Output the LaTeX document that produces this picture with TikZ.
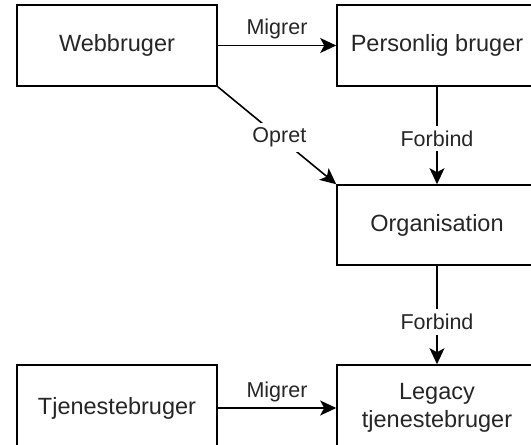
\documentclass[tikz,border=0pt]{standalone}
\usepackage{fontspec}
\setmainfont{Liberation Sans}
\usetikzlibrary{arrows.meta}
\tikzset{
  box/.style={draw=black, line width=1.6pt, fill=white, minimum width=200pt, align=center,
    font=\fontsize{23.5}{28}\selectfont, text=black!85, inner sep=0pt},
  conn/.style={line width=1.6pt, -{Stealth[length=16pt, width=15pt, inset=4pt]}},
  lbl/.style={font=\fontsize{21.5}{26}\selectfont, text=black!85},
  onlbl/.style={lbl, fill=white, inner xsep=2pt, inner ysep=5pt}
}
\begin{document}
\begin{tikzpicture}[x=1pt, y=-1pt]
\useasboundingbox (0,0) rectangle (531,445);
\clip (0,0) rectangle (531,445);
\node[box, minimum height=81pt] (web) at (117,45.5) {Webbruger};
\node[box, minimum height=81pt] (pers) at (437,45.5) {Personlig bruger};
\node[box, minimum height=80pt] (org) at (437,225) {Organisation};
\node[box, minimum height=86pt] (tj) at (117,408) {Tjenestebruger};
\node[box, minimum height=86pt] (leg) at (437,408) {Legacy\\tjenestebruger};
\draw[conn] (web.east) -- node[lbl, above=2pt] {Migrer} (pers.west);
\draw[conn] (pers.south) -- node[onlbl, pos=0.53] {Forbind} (org.north);
\draw[conn] (web.south east) -- node[onlbl, pos=0.52] {Opret} (org.north west);
\draw[conn] (org.south) -- node[onlbl, pos=0.57] {Forbind} (leg.north);
\draw[conn] (tj.east) -- node[lbl, above=2pt] {Migrer} (leg.west);
\end{tikzpicture}
\end{document}
